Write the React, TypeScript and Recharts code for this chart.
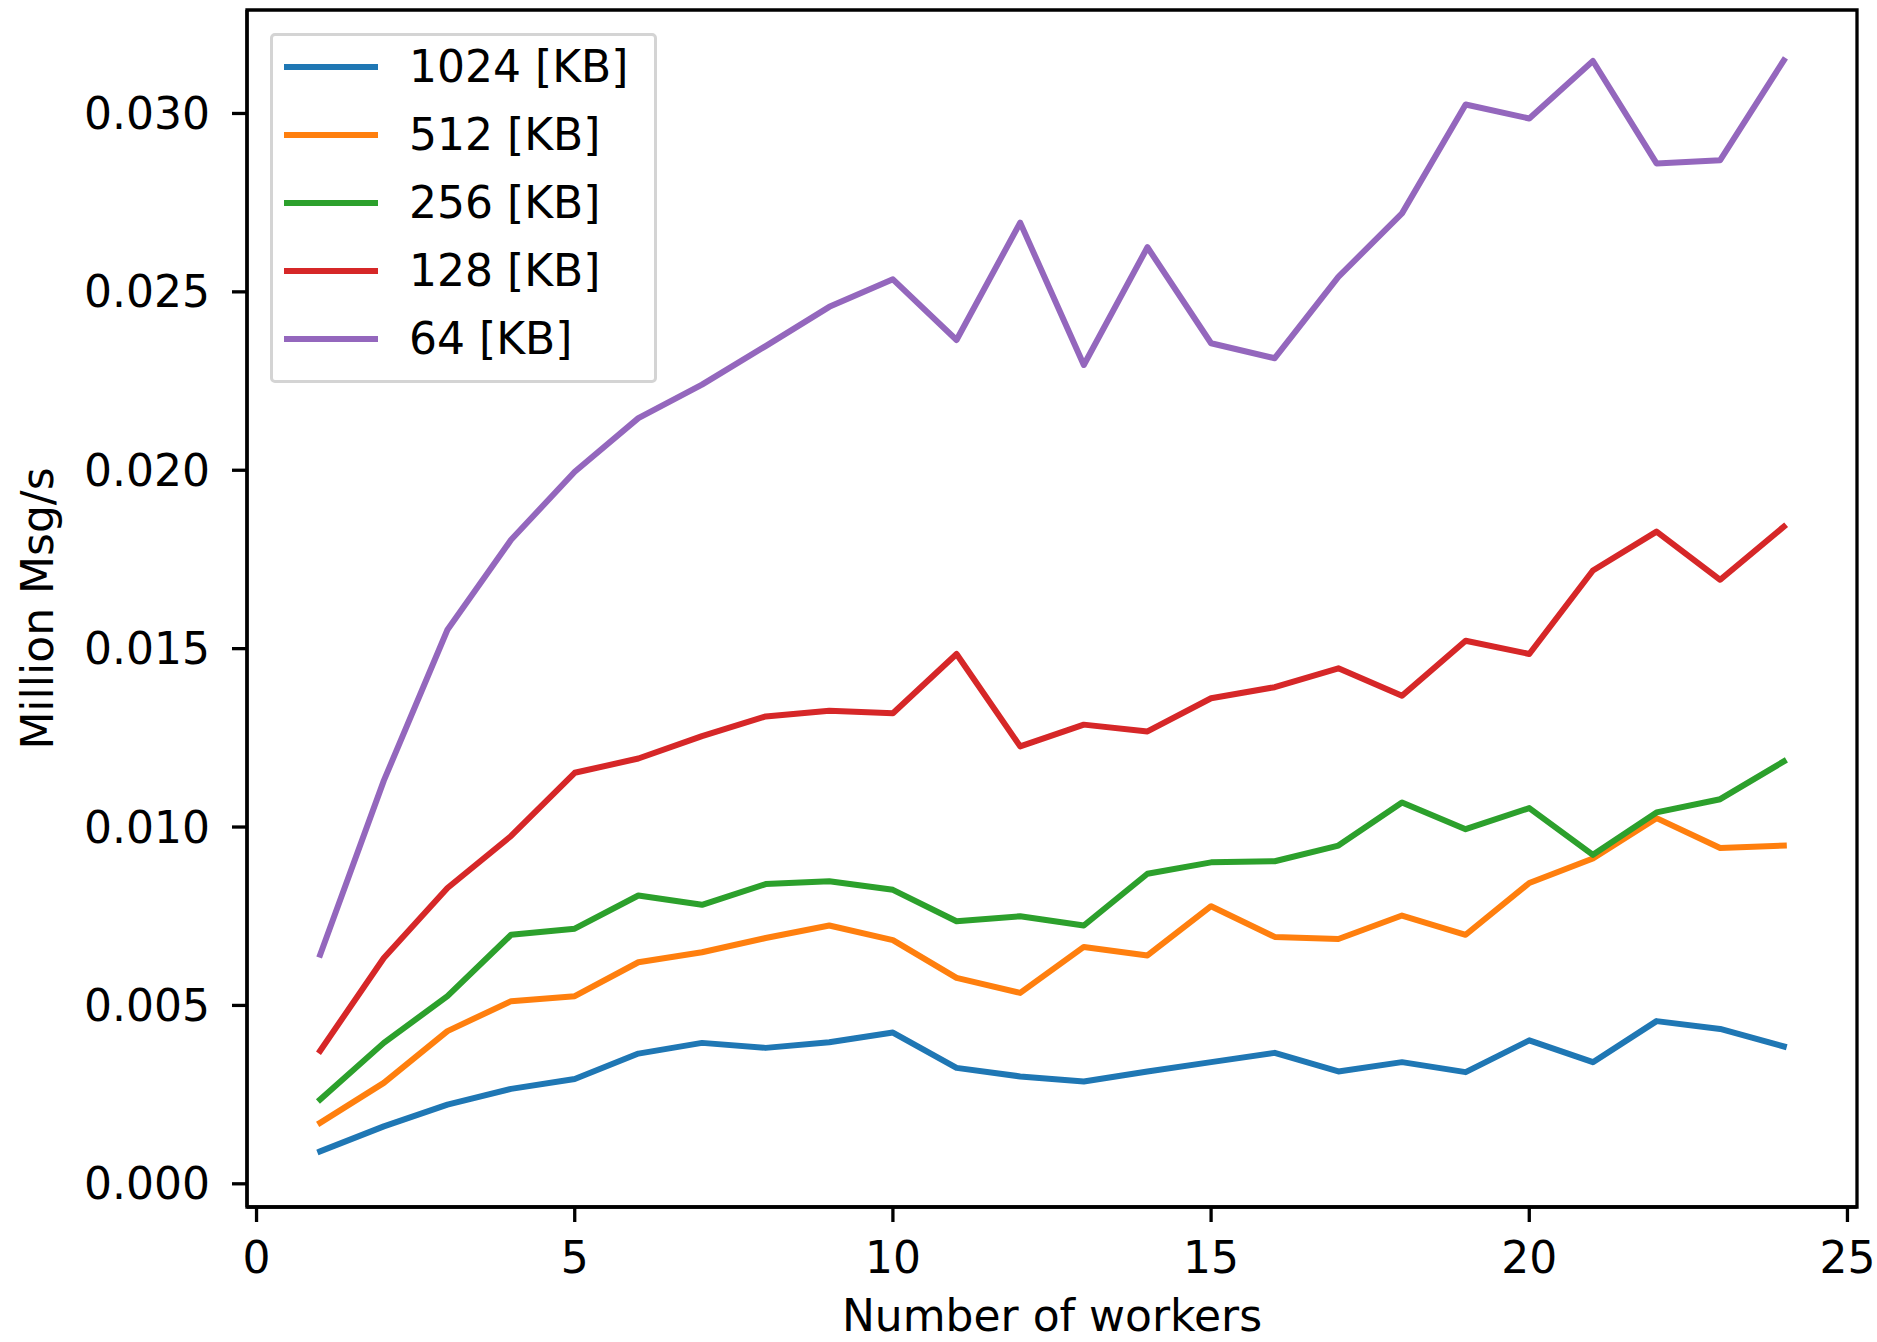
import React from 'react';
import { LineChart, Line, XAxis, YAxis, Legend, ReferenceArea } from 'recharts';

// Number of workers on the x axis
const workers = [1, 2, 3, 4, 5, 6, 7, 8, 9, 10, 11, 12, 13, 14, 15, 16, 17, 18, 19, 20, 21, 22, 23, 24];

// Throughput (million messages per second) per message size
const kb1024 = [0.00091, 0.00161, 0.00222, 0.00266, 0.00294, 0.00365, 0.00395, 0.00381, 0.00397, 0.00424, 0.00325, 0.00301, 0.00287, 0.00315, 0.00341, 0.00367, 0.00315, 0.00341, 0.00313, 0.00402, 0.00341, 0.00456, 0.00434, 0.00385];
const kb512 = [0.00171, 0.00283, 0.00428, 0.00512, 0.00526, 0.00621, 0.00649, 0.00689, 0.00724, 0.00683, 0.00577, 0.00535, 0.00664, 0.0064, 0.00778, 0.00692, 0.00686, 0.00752, 0.00698, 0.00843, 0.00912, 0.01025, 0.00941, 0.00948];
const kb256 = [0.00236, 0.00395, 0.00526, 0.00698, 0.00715, 0.00808, 0.00782, 0.0084, 0.00848, 0.00824, 0.00736, 0.0075, 0.00724, 0.00869, 0.00901, 0.00904, 0.00948, 0.01069, 0.00994, 0.01053, 0.00922, 0.01041, 0.01078, 0.01184];
const kb128 = [0.00373, 0.00633, 0.00829, 0.00975, 0.01152, 0.01192, 0.01255, 0.0131, 0.01326, 0.01319, 0.01485, 0.01226, 0.01287, 0.01268, 0.01361, 0.01392, 0.01445, 0.01368, 0.01522, 0.01485, 0.01719, 0.01828, 0.01693, 0.01842];
const kb64 = [0.00642, 0.0113, 0.01553, 0.01805, 0.01996, 0.02146, 0.0224, 0.02348, 0.02458, 0.02535, 0.02365, 0.02694, 0.02295, 0.02625, 0.02356, 0.02314, 0.02542, 0.0272, 0.03025, 0.02986, 0.03147, 0.0286, 0.02869, 0.03149];

const seriesLabels = ['1024 [KB]', '512 [KB]', '256 [KB]', '128 [KB]', '64 [KB]'];
const seriesColors = ['#1f77b4', '#ff7f0e', '#2ca02c', '#d62728', '#9467bd'];
const seriesValues = [kb1024, kb512, kb256, kb128, kb64];

const xTicks = [0, 5, 10, 15, 20, 25];
const yTicks = [0, 0.005, 0.01, 0.015, 0.02, 0.025, 0.03];

const X_DOMAIN: [number, number] = [-0.15, 25.15];
const Y_DOMAIN: [number, number] = [-0.00065, 0.0329];

const keys = seriesLabels.map((_, i) => `s${i}`);
const data = workers.map((w, r) => {
  const row: Record<string, number> = { workers: w };
  seriesValues.forEach((vals, i) => {
    row[keys[i]] = vals[r];
  });
  return row;
});

const FONT = '"DejaVu Sans", sans-serif';
const FS = 44;
const SPINE = 3.3;

const tickStyle = { fontSize: FS, fontFamily: FONT, fill: '#000' };

function LegendBox() {
  const rowGap = 68.15;
  return (
    <div
      style={{
        position: 'relative',
        width: 387,
        height: 350,
        boxSizing: 'border-box',
        border: '3px solid #d4d4d4',
        borderRadius: 5,
        background: 'rgba(255,255,255,0.8)',
        fontFamily: FONT,
        fontSize: FS,
        color: '#000',
      }}
    >
      {seriesLabels.map((label, i) => {
        const cy = 30.7 + rowGap * i;
        return (
          <div key={label}>
            <svg
              width={100}
              height={12}
              style={{ position: 'absolute', left: 8, top: cy - 6 }}
            >
              <line x1={3} y1={6} x2={97} y2={6} stroke={seriesColors[i]} strokeWidth={6} />
            </svg>
            <span
              style={{
                position: 'absolute',
                left: 136,
                top: cy,
                transform: 'translateY(-50%)',
                lineHeight: 1,
                whiteSpace: 'nowrap',
              }}
            >
              {label}
            </span>
          </div>
        );
      })}
    </div>
  );
}

export default function App() {
  return (
    <div style={{ position: 'absolute', left: 0, top: 0, width: 1877, height: 1342, background: '#fff' }}>
      <LineChart
        width={1877}
        height={1342}
        data={data}
        margin={{ top: 10, right: 20, left: 0, bottom: 0 }}
      >
        <XAxis
          dataKey="workers"
          type="number"
          domain={X_DOMAIN}
          ticks={xTicks}
          allowDataOverflow
          height={135}
          tickSize={15}
          tickMargin={20}
          tick={tickStyle}
          axisLine={{ stroke: '#000', strokeWidth: SPINE }}
          tickLine={{ stroke: '#000', strokeWidth: SPINE }}
          interval={0}
          label={{
            value: 'Number of workers',
            position: 'insideBottom',
            offset: 11,
            fontSize: FS,
            fontFamily: FONT,
            fill: '#000',
          }}
        />
        <YAxis
          type="number"
          domain={Y_DOMAIN}
          ticks={yTicks}
          allowDataOverflow
          width={247}
          tickSize={15}
          tickMargin={22}
          tick={tickStyle}
          tickFormatter={(v: number) => v.toFixed(3)}
          axisLine={{ stroke: '#000', strokeWidth: SPINE }}
          tickLine={{ stroke: '#000', strokeWidth: SPINE }}
          interval={0}
          label={{
            value: 'Million Msg/s',
            position: 'insideLeft',
            angle: -90,
            offset: 37,
            fontSize: FS,
            fontFamily: FONT,
            fill: '#000',
            style: { textAnchor: 'middle' },
          }}
        />
        {keys.map((k, i) => (
          <Line
            key={k}
            dataKey={k}
            name={seriesLabels[i]}
            stroke={seriesColors[i]}
            strokeWidth={6}
            strokeLinejoin="round"
            strokeLinecap="square"
            dot={false}
            activeDot={false}
            isAnimationActive={false}
          />
        ))}
        {/* frame around the plotting area (top and right spines) */}
        <ReferenceArea
          x1={X_DOMAIN[0]}
          x2={X_DOMAIN[1]}
          y1={Y_DOMAIN[0]}
          y2={Y_DOMAIN[1]}
          ifOverflow="visible"
          fill="none"
          fillOpacity={0}
          stroke="#000"
          strokeWidth={SPINE}
          strokeOpacity={1}
        />
        <Legend
          layout="vertical"
          align="center"
          verticalAlign="middle"
          wrapperStyle={{ top: 33, left: 270, width: 387, height: 350 }}
          content={() => <LegendBox />}
        />
      </LineChart>
    </div>
  );
}
